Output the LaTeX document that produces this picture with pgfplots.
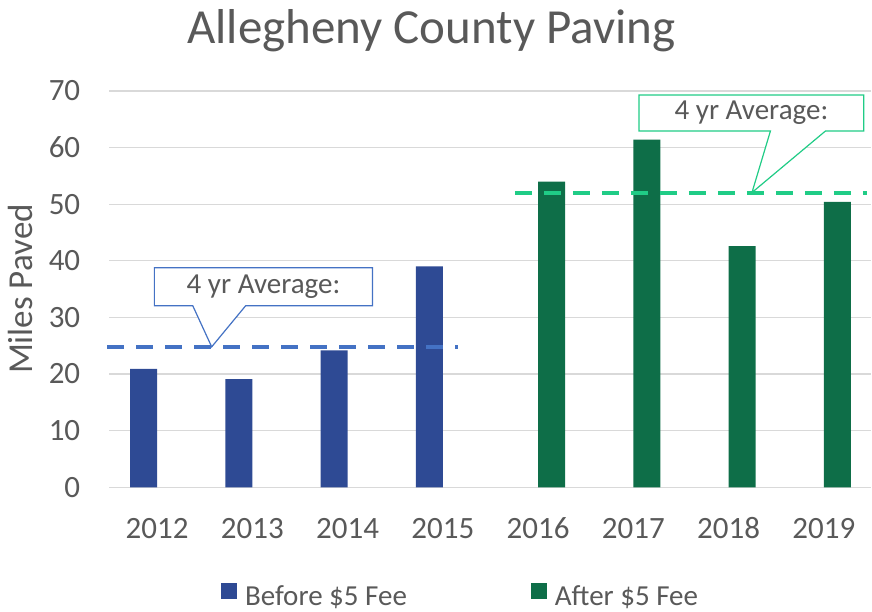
\documentclass[border=0pt]{standalone}
\usepackage{pgfplots}
\pgfplotsset{compat=1.18}
\usepackage{fontspec}
\setmainfont{Carlito}
\definecolor{txt}{RGB}{89,89,89}
\definecolor{grd}{RGB}{217,217,217}
\definecolor{bbar}{RGB}{46,74,148}
\definecolor{gbar}{RGB}{14,110,72}
\definecolor{bline}{RGB}{68,114,196}
\definecolor{gline}{RGB}{32,204,134}
\begin{document}
\begin{tikzpicture}
\useasboundingbox (-109.4pt,-124.7pt) rectangle (762.6pt,487.3pt);
\begin{axis}[
  at={(0,0)}, anchor=south west,
  scale only axis, width=762pt, height=396.4pt,
  xmin=-0.5, xmax=7.5, ymin=0, ymax=70,
  clip=false,
  axis line style={draw=none},
  major tick length=0pt,
  xtick={0,...,7},
  xticklabels={2012,2013,2014,2015,2016,2017,2018,2019},
  ytick={0,10,...,70},
  ymajorgrids, grid style={grd, line width=1.3pt},
  /pgf/number format/assume math mode=true,
  ticklabel style={font=\fontsize{31}{36}\selectfont, text=txt},
  xticklabel style={anchor=base, inner sep=0pt, yshift=-51pt},
  yticklabel style={anchor=east, inner sep=0pt, xshift=-29pt},
  legend columns=2,
  legend style={at={(0.4595,-0.2717)}, anchor=center, draw=none, fill=none,
    font=\fontsize{29}{34}\selectfont, text=txt,
    nodes={inner sep=0pt},
    /tikz/every odd column/.append style={column sep=8pt},
    /tikz/every even column/.append style={column sep=124pt}},
  legend image code/.code={\fill[#1] (0pt,-3pt) rectangle (16pt,13pt);},
]
\addplot[ybar, bar width=27pt, bar shift=-13.5pt, fill=bbar, draw=none]
  coordinates {(0,20.9) (1,19.1) (2,24.2) (3,39.0)};
\addlegendentry{Before \$5 Fee}
\addplot[ybar, bar width=27pt, bar shift=13.5pt, fill=gbar, draw=none]
  coordinates {(4,54.0) (5,61.4) (6,42.6) (7,50.4)};
\addlegendentry{After \$5 Fee}
\addplot[forget plot, no marks, bline, line width=4pt, dash pattern=on 17pt off 12pt]
  coordinates {(-0.525,24.8) (3.16,24.8)};
\addplot[forget plot, no marks, gline, line width=4pt, dash pattern=on 17pt off 12pt]
  coordinates {(3.757,52.05) (7.45,52.05)};
% callouts
\draw[bline, line width=1.2pt, fill=white, line join=miter]
  (axis cs:-0.028,38.78) -- (axis cs:2.263,38.78) -- (axis cs:2.263,32.07)
  -- (axis cs:0.931,32.07) -- (axis cs:0.574,24.8) -- (axis cs:0.375,32.07)
  -- (axis cs:-0.028,32.07) -- cycle;
\node[font=\fontsize{29}{34}\selectfont, text=txt, inner sep=0pt] at (axis cs:1.1175,35.42) {4 yr Average:};
\draw[gline, line width=1.2pt, fill=white, line join=miter]
  (axis cs:5.061,69.27) -- (axis cs:7.419,69.27) -- (axis cs:7.419,62.92)
  -- (axis cs:7.018,62.92) -- (axis cs:6.246,52.05) -- (axis cs:6.44,62.92)
  -- (axis cs:5.061,62.92) -- cycle;
\node[font=\fontsize{29}{34}\selectfont, text=txt, inner sep=0pt] at (axis cs:6.24,66.1) {4 yr Average:};
% title and y label
\node[font=\fontsize{49}{56}\selectfont, text=txt, anchor=base] at (rel axis cs:0.4227,1.1208) {Allegheny County Paving};
\node[font=\fontsize{35}{40}\selectfont, text=txt, rotate=90, anchor=center] at (rel axis cs:-0.1173,0.5) {Miles Paved};
\end{axis}
\end{tikzpicture}
\end{document}
